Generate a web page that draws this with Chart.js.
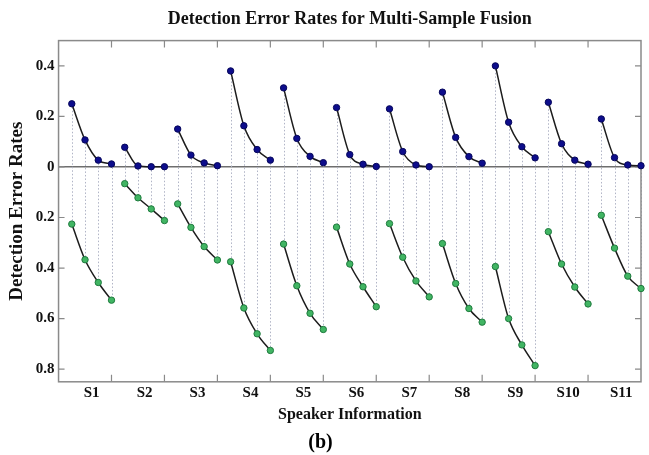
<!DOCTYPE html>
<html>
<head>
<meta charset="utf-8">
<script src="https://cdn.jsdelivr.net/npm/chart.js@4.4.1/dist/chart.umd.min.js"></script>
<style>
  html, body { margin: 0; padding: 0; background: #fff; }
</style>
</head>
<body>
<canvas id="myChart" width="649" height="455"></canvas>
<script>
// Speakers, 4 fused samples each
let speakers = ['S1', 'S2', 'S3', 'S4', 'S5', 'S6', 'S7', 'S8', 'S9', 'S10', 'S11'];

// upper (blue) error rates, 4 per speaker
let upper_values = [
  0.250, 0.107, 0.027, 0.012,
  0.078, 0.004, 0.001, 0.001,
  0.150, 0.047, 0.016, 0.005,
  0.380, 0.163, 0.069, 0.027,
  0.313, 0.113, 0.042, 0.017,
  0.235, 0.049, 0.011, 0.002,
  0.230, 0.061, 0.008, 0.001,
  0.296, 0.117, 0.041, 0.015,
  0.400, 0.177, 0.080, 0.036,
  0.256, 0.092, 0.027, 0.011,
  0.190, 0.037, 0.008, 0.005
];

// lower (green) error rates, drawn downwards
let lower_values = [
  0.226, 0.367, 0.457, 0.527,
  0.066, 0.122, 0.166, 0.212,
  0.146, 0.239, 0.315, 0.368,
  0.375, 0.558, 0.660, 0.726,
  0.305, 0.470, 0.579, 0.643,
  0.238, 0.384, 0.474, 0.553,
  0.224, 0.357, 0.451, 0.514,
  0.303, 0.461, 0.560, 0.614,
  0.394, 0.600, 0.704, 0.786,
  0.256, 0.384, 0.475, 0.542,
  0.191, 0.321, 0.432, 0.481
];

let y_ticks = [-0.8, -0.6, -0.4, -0.2, 0, 0.2, 0.4];

let serif = "'Liberation Serif', 'Times New Roman', serif";

// build {x,y} points, with a null between speakers so each curve is separate
function buildPoints(values, sign) {
  let pts = [];
  for (let i = 0; i < values.length; i++) {
    pts.push({ x: i + 1, y: sign * values[i] });
    if (i % 4 == 3 && i < values.length - 1) pts.push({ x: i + 1.5, y: null });
  }
  return pts;
}

// dotted stems + box with inward ticks (matlab look)
let framePlugin = {
  id: 'frame',
  beforeDatasetsDraw(chart) {
    let ctx = chart.ctx;
    let xs = chart.scales.x;
    let ys = chart.scales.y;
    let area = chart.chartArea;

    ctx.save();
    ctx.strokeStyle = '#b0b4c6';
    ctx.lineWidth = 1;
    ctx.setLineDash([1.5, 2]);
    for (let i = 0; i < upper_values.length; i++) {
      let px = Math.round(xs.getPixelForValue(i + 1)) + 0.5;
      ctx.beginPath();
      ctx.moveTo(px, ys.getPixelForValue(upper_values[i]));
      ctx.lineTo(px, ys.getPixelForValue(-lower_values[i]));
      ctx.stroke();
    }
    ctx.setLineDash([]);

    ctx.strokeStyle = '#8a8a8a';
    ctx.lineWidth = 1.5;
    ctx.strokeRect(area.left, area.top, area.right - area.left, area.bottom - area.top);

    ctx.lineWidth = 1.2;
    for (let k = 1; k < speakers.length; k++) {
      let px = xs.getPixelForValue(4 * k);
      ctx.beginPath();
      ctx.moveTo(px, area.bottom); ctx.lineTo(px, area.bottom - 7);
      ctx.moveTo(px, area.top); ctx.lineTo(px, area.top + 7);
      ctx.stroke();
    }
    y_ticks.forEach(v => {
      let py = ys.getPixelForValue(v);
      ctx.beginPath();
      ctx.moveTo(area.left, py); ctx.lineTo(area.left + 6, py);
      ctx.moveTo(area.right, py); ctx.lineTo(area.right - 6, py);
      ctx.stroke();
    });
    ctx.restore();
  }
};

let ctx = document.getElementById('myChart').getContext('2d');
let mychart = new Chart(ctx, {
  type: 'line',
  data: {
    datasets: [
      {
        label: 'upper',
        data: buildPoints(upper_values, 1),
        borderColor: '#1c1c1c',
        borderWidth: 1.5,
        cubicInterpolationMode: 'monotone',
        pointRadius: 3.2,
        pointBackgroundColor: '#0d0d8c',
        pointBorderColor: '#06065a',
        pointBorderWidth: 1,
        spanGaps: false,
        clip: false
      },
      {
        label: 'lower',
        data: buildPoints(lower_values, -1),
        borderColor: '#1c1c1c',
        borderWidth: 1.5,
        cubicInterpolationMode: 'monotone',
        pointRadius: 3.2,
        pointBackgroundColor: '#41b563',
        pointBorderColor: '#1f7a3e',
        pointBorderWidth: 1,
        spanGaps: false,
        clip: false
      }
    ]
  },
  options: {
    responsive: false,
    animation: false,
    layout: { padding: { left: 0, right: 8, top: 0, bottom: 0 } },
    plugins: {
      legend: { display: false },
      tooltip: { enabled: false },
      title: { display: false },
      subtitle: {
        display: true,
        position: 'bottom',
        text: '(b)',
        color: '#000',
        font: { family: serif, size: 20, weight: 'bold' },
        padding: { top: 2, bottom: 0 }
      }
    },
    scales: {
      x: {
        type: 'linear',
        position: 'bottom',
        min: 0,
        max: 44,
        afterBuildTicks: (scale) => {
          scale.ticks = speakers.map((s, k) => ({ value: 4 * k + 2.5 }));
        },
        ticks: {
          autoSkip: false,
          maxRotation: 0,
          padding: 2,
          color: '#111',
          font: { family: serif, size: 15, weight: 'bold' },
          callback: (v, i) => speakers[i]
        },
        grid: { display: false, drawTicks: false },
        border: { display: false },
        title: {
          display: true,
          text: 'Speaker Information',
          color: '#111',
          font: { family: serif, size: 16, weight: 'bold' },
          padding: { top: 1, bottom: 5 }
        }
      },
      x2: {
        type: 'linear',
        position: 'top',
        min: 0,
        max: 44,
        ticks: { display: false },
        grid: { display: false, drawTicks: false },
        border: { display: false },
        title: {
          display: true,
          text: 'Detection Error Rates for Multi-Sample Fusion',
          color: '#111',
          font: { family: serif, size: 18, weight: 'bold' },
          padding: { top: 9, bottom: 10 }
        }
      },
      y: {
        type: 'linear',
        min: -0.85,
        max: 0.5,
        afterBuildTicks: (scale) => {
          scale.ticks = y_ticks.map(v => ({ value: v }));
        },
        ticks: {
          padding: 4,
          color: '#111',
          font: { family: serif, size: 15, weight: 'bold' },
          callback: (v) => v == 0 ? '0' : Math.abs(v).toFixed(1)
        },
        grid: {
          drawTicks: false,
          lineWidth: 1.5,
          color: (c) => (c.tick && c.tick.value == 0) ? '#6e6e6e' : 'rgba(0,0,0,0)'
        },
        border: { display: false },
        title: {
          display: true,
          text: 'Detection Error Rates',
          color: '#111',
          font: { family: serif, size: 19, weight: 'bold' },
          padding: { top: 6, bottom: 3 }
        }
      }
    }
  },
  plugins: [framePlugin]
});
</script>
</body>
</html>
